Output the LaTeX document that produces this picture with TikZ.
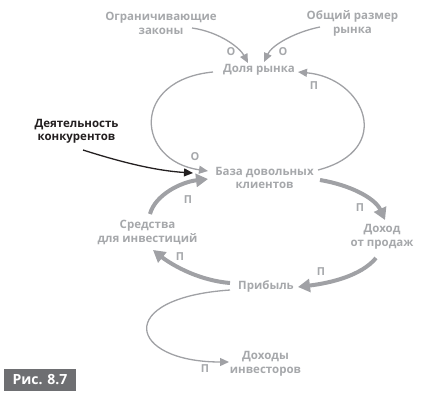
\documentclass[tikz,border=0pt]{standalone}
\usepackage{fontspec}
\setmainfont{Open Sans}
\usetikzlibrary{arrows.meta}
\definecolor{txtgray}{RGB}{166,168,171}
\definecolor{arrgray}{RGB}{160,161,165}
\definecolor{figgray}{RGB}{110,111,114}
\definecolor{darkarr}{RGB}{35,31,32}
\begin{document}
\begin{tikzpicture}[x=1pt, y=-1pt,
    var/.style={align=center, text=txtgray, inner sep=1pt,
                font=\fontsize{11.5}{13.5}\selectfont\bfseries},
    sign/.style={text=txtgray, inner sep=0pt, font=\fontsize{11}{12}\selectfont\bfseries},
    thinarr/.style={-{Triangle[length=9pt,width=8pt]}, line width=1.3pt, draw=arrgray},
    thickarr/.style={-{Triangle[length=12pt,width=13pt]}, line width=4pt, draw=arrgray},
    extarr/.style={-{Triangle[length=9pt,width=8pt]}, line width=1.3pt, draw=darkarr}
]
\useasboundingbox (0,0) rectangle (434,410);

%% All nodes placed at explicit absolute coordinates %%

% Outer drivers
\node[var] (zakony)   at (161, 23.5) {Ограничивающие\\законы};
\node[var] (obshchiy) at (352.5, 23.5) {Общий размер\\рынка};
\node[var, text=darkarr] (konkur) at (76.5, 131.5) {Деятельность\\конкурентов};

% Main loop
\node[var] (dolya)    at (259, 70) {Доля рынка};
\node[var] (baza)     at (264.5, 178) {База довольных\\клиентов};
\node[var] (dokhod)   at (382, 237) {Доход\\от продаж};
\node[var] (pribyl)   at (266, 286) {Прибыль};
\node[var] (sredstva) at (147.5, 232.5) {Средства\\для инвестиций};
\node[var] (investory) at (265.5, 364) {Доходы\\инвесторов};

% Polarity signs
\node[sign] (s1) at (231, 52)  {О};
\node[sign] (s2) at (283, 52)  {О};
\node[sign] (s3) at (314, 86)  {П};
\node[sign] (s4) at (195, 157) {О};
\node[sign] (s5) at (188, 200) {П};
\node[sign] (s6) at (360, 208) {П};
\node[sign] (s7) at (180, 257) {П};
\node[sign] (s8) at (321, 272) {П};
\node[sign] (s9) at (205, 369) {П};

% Figure tag
\node[fill=figgray, text=white, minimum width=72pt, minimum height=22pt, inner sep=0pt,
      font=\fontsize{14}{16}\selectfont\bfseries] (ris) at (40, 380) {Рис. 8.7};

%% Arrows %%

% Limits -> market share
\draw[thinarr] ([shift={(31,4.5)}]zakony.center) .. controls +(28,4) and +(-8,-15) .. ([shift={(-11,-7)}]dolya.center);
\draw[thinarr] ([shift={(-32.5,3.5)}]obshchiy.center) .. controls +(-25,5) and +(8,-17) .. ([shift={(5,-8)}]dolya.center);

% Upper loop
\draw[thinarr] ([shift={(-46,2)}]dolya.center) .. controls +(-83,8) and +(-72,-10) .. ([shift={(-56.5,-7)}]baza.center);
\draw[thinarr] ([shift={(53.5,-8)}]baza.center) .. controls +(77,-20) and +(67,6) .. ([shift={(39,2)}]dolya.center);

% Competitors
\draw[extarr] ([shift={(6.5,18.5)}]konkur.center) .. controls +(47,15) and +(-32,-2) .. ([shift={(-71.5,-5)}]baza.center);

% Lower loop
\draw[thickarr] ([shift={(55.5,2)}]baza.center) .. controls +(30,5) and +(-10,-22) .. ([shift={(3,-17)}]dokhod.center);
\draw[thickarr] ([shift={(-6,21)}]dokhod.center) .. controls +(-15,18) and +(32,-4) .. ([shift={(32,1)}]pribyl.center);
\draw[thickarr] ([shift={(-36,-3)}]pribyl.center) .. controls +(-35,-3) and +(15,12) .. ([shift={(5.5,17.5)}]sredstva.center);
\draw[thickarr] ([shift={(2.5,-18.5)}]sredstva.center) .. controls +(5,-19) and +(-27,3) .. ([shift={(-56.5,1)}]baza.center);

% Profit -> investors
\draw[thinarr] ([shift={(-36,4)}]pribyl.center) .. controls +(-117,8) and +(-101,0) .. ([shift={(-36.5,-2)}]investory.center);

\end{tikzpicture}
\end{document}
